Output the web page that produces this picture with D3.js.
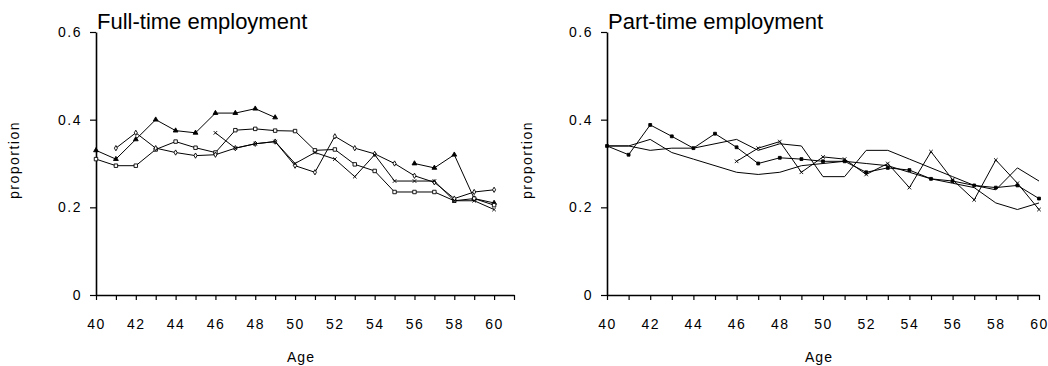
<!DOCTYPE html>
<html>
<head>
<meta charset="utf-8">
<script src="https://cdn.jsdelivr.net/npm/d3@7"></script>
<style>
  body { margin: 0; background: #fff; }
  svg { display: block; }
  text { font-family: "Liberation Sans", Arial, sans-serif; fill: #000; }
  .tick text { font-size: 14px; letter-spacing: 1.5px; }
</style>
</head>
<body>
<svg id="chart" width="1048" height="366"></svg>
<script>
// ages on the x axis
const ages = [40, 41, 42, 43, 44, 45, 46, 47, 48, 49, 50, 51, 52, 53, 54, 55, 56, 57, 58, 59, 60];
const yTicks = [0, 0.2, 0.4, 0.6];

// full-time employment, proportion by age (null = no point)
const ftTriangle = [0.33, 0.31, 0.355, 0.40, 0.375, 0.37, 0.415, 0.415, 0.425, 0.405, null, null, null, null, null, null, 0.30, 0.29, 0.32, 0.22, 0.21];
const ftSquare = [0.31, 0.295, 0.295, 0.332, 0.35, 0.336, 0.325, 0.376, 0.379, 0.375, 0.374, 0.33, 0.332, 0.298, 0.283, 0.235, 0.235, 0.235, 0.215, 0.22, 0.205];
const ftDiamond = [null, 0.335, 0.37, 0.335, 0.325, 0.318, 0.32, 0.335, 0.345, 0.35, 0.295, 0.28, 0.362, 0.335, 0.322, 0.30, 0.272, 0.257, 0.22, 0.235, 0.24];
const ftCross = [null, null, null, null, null, null, 0.37, 0.335, 0.345, 0.35, 0.30, 0.325, 0.31, 0.27, 0.32, 0.26, 0.26, 0.26, 0.215, 0.215, 0.195];

// part-time employment
const ptSquare = [0.34, 0.32, 0.388, 0.362, 0.335, 0.368, 0.337, 0.30, 0.313, 0.31, 0.305, 0.305, 0.28, 0.29, 0.285, 0.265, 0.26, 0.25, 0.245, 0.25, 0.22];
const ptLow = [0.34, 0.34, 0.355, 0.325, 0.31, 0.295, 0.28, 0.275, 0.28, 0.295, 0.30, 0.305, 0.30, 0.295, 0.28, 0.265, 0.255, 0.245, 0.21, 0.195, 0.21];
const ptHigh = [0.34, 0.34, 0.33, 0.335, 0.335, 0.345, 0.355, 0.33, 0.345, 0.34, 0.27, 0.27, 0.33, 0.33, 0.31, 0.29, 0.27, 0.25, 0.24, 0.29, 0.26];
const ptCross = [null, null, null, null, null, null, 0.305, 0.335, 0.35, 0.28, 0.315, 0.31, 0.275, 0.30, 0.245, 0.327, 0.263, 0.217, 0.308, 0.255, 0.195];

const svg = d3.select('#chart');
const crossType = d3.symbolTimes || d3.symbolCross;

function drawPanel(cfg) {
  const x = d3.scaleLinear().domain(cfg.xDomain).range(cfg.xRange);
  const y = d3.scaleLinear().domain([0, 0.6]).range([295, 32]);
  const g = svg.append('g');

  // x axis
  const xTickVals = d3.range(cfg.xDomain[0], cfg.xDomain[1] + 1);
  g.append('g')
    .attr('transform', `translate(0,${y(0)})`)
    .call(d3.axisBottom(x)
      .tickValues(xTickVals)
      .tickSize(5)
      .tickSizeOuter(0)
      .tickPadding(19)
      .tickFormat(d => (d % 2 === 0 && d <= 60) ? d : ''))
    .call(a => a.select('.domain').attr('stroke-width', 1.3))
    .call(a => a.selectAll('.tick line').attr('stroke-width', 1.2));

  // y axis
  g.append('g')
    .attr('transform', `translate(${cfg.xRange[0]},0)`)
    .call(d3.axisLeft(y)
      .tickValues(yTicks)
      .tickSize(6)
      .tickSizeOuter(0)
      .tickPadding(8)
      .tickFormat(d => d === 0 ? '0' : d3.format('.1f')(d)))
    .call(a => a.select('.domain').attr('stroke-width', 1.6))
    .call(a => a.selectAll('.tick line').attr('stroke-width', 1.2));

  // lines + markers
  const line = d3.line()
    .defined(d => d.v != null)
    .x(d => x(d.age))
    .y(d => y(d.v));

  cfg.series.forEach(s => {
    const pts = ages.map((a, i) => ({ age: a, v: s.values[i] }));
    g.append('path')
      .datum(pts)
      .attr('fill', 'none')
      .attr('stroke', '#000')
      .attr('stroke-width', 1)
      .attr('d', line);
    if (s.symbol) {
      g.selectAll(null)
        .data(pts.filter(d => d.v != null))
        .enter().append('path')
        .attr('transform', d => `translate(${x(d.age)},${y(d.v)})`)
        .attr('d', d3.symbol().type(s.symbol).size(s.size))
        .attr('fill', s.fill)
        .attr('stroke', '#000')
        .attr('stroke-width', 0.9);
    }
  });

  // title
  g.append('text')
    .attr('x', cfg.xRange[0] + 1)
    .attr('y', 29)
    .style('font-size', '22px')
    .text(cfg.title);

  // axis titles
  g.append('text')
    .attr('x', (cfg.xRange[0] + cfg.xRange[1]) / 2 - 4)
    .attr('y', 362)
    .attr('text-anchor', 'middle')
    .style('font-size', '14px')
    .style('letter-spacing', '1px')
    .text('Age');

  g.append('text')
    .attr('transform', `translate(${cfg.yLabelX},160) rotate(-90)`)
    .attr('text-anchor', 'middle')
    .style('font-size', '14px')
    .style('letter-spacing', '1.5px')
    .text('proportion');
}

drawPanel({
  title: 'Full-time employment',
  xDomain: [40, 61],
  xRange: [96, 514],
  yLabelX: 19,
  series: [
    { values: ftTriangle, symbol: d3.symbolTriangle, size: 10, fill: '#000' },
    { values: ftSquare, symbol: d3.symbolSquare, size: 12, fill: '#fff' },
    { values: ftDiamond, symbol: d3.symbolDiamond, size: 8, fill: '#fff' },
    { values: ftCross, symbol: crossType, size: 10, fill: 'none' }
  ]
});

drawPanel({
  title: 'Part-time employment',
  xDomain: [40, 60],
  xRange: [607, 1039],
  yLabelX: 532,
  series: [
    { values: ptSquare, symbol: d3.symbolSquare, size: 8, fill: '#000' },
    { values: ptLow, symbol: null },
    { values: ptHigh, symbol: null },
    { values: ptCross, symbol: crossType, size: 10, fill: 'none' }
  ]
});
</script>
</body>
</html>
